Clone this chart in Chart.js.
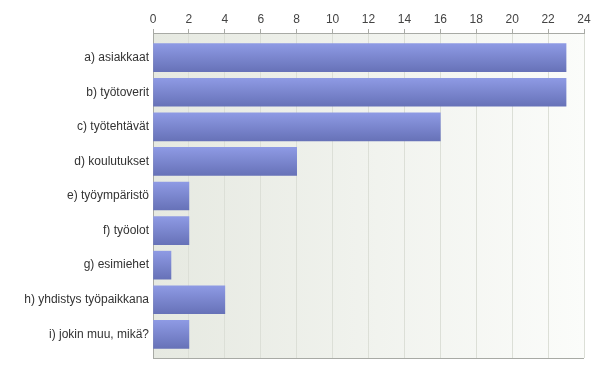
<!DOCTYPE html>
<html>
<head>
<meta charset="utf-8">
<script src="https://cdn.jsdelivr.net/npm/chart.js@4/dist/chart.umd.min.js"></script>
<style>
  html, body { margin: 0; padding: 0; background: #fff; }
  #wrap { width: 600px; height: 373px; }
</style>
</head>
<body>
<div id="wrap"><canvas id="myChart"></canvas></div>
<script>
const categories = ['a) asiakkaat', 'b) työtoverit', 'c) työtehtävät', 'd) koulutukset', 'e) työympäristö', 'f) työolot', 'g) esimiehet', 'h) yhdistys työpaikkana', 'i) jokin muu, mikä?'];
const values = [23, 23, 16, 8, 2, 2, 1, 4, 2];
const xTicks = [0, 2, 4, 6, 8, 10, 12, 14, 16, 18, 20, 22, 24];

// plot background + bottom outline
const plotFrame = {
    id: 'plotFrame',
    beforeDraw(chart) {
        const { ctx, chartArea: a } = chart;
        const g = ctx.createLinearGradient(a.left, 0, a.right, 0);
        g.addColorStop(0, '#e6e9e1');
        g.addColorStop(1, '#fbfcfa');
        ctx.save();
        ctx.fillStyle = g;
        ctx.fillRect(a.left, a.top, a.right - a.left, a.bottom - a.top);
        ctx.restore();
    },
    afterDraw(chart) {
        const { ctx, chartArea: a } = chart;
        ctx.save();
        ctx.strokeStyle = '#a8aaa5';
        ctx.lineWidth = 1;
        ctx.beginPath();
        ctx.moveTo(a.left, a.bottom + 0.5);
        ctx.lineTo(a.right, a.bottom + 0.5);
        ctx.stroke();
        ctx.restore();
    }
};

const chart = document.querySelector('#myChart');
new Chart(chart, {
    type: 'bar',
    data: {
        datasets: [
            {
                data: values.map((v, i) => ({ x: v, y: i })),
                backgroundColor: function(context) {
                    const c = context.chart;
                    const ys = c.scales && c.scales.y;
                    if (!c.chartArea || !ys || context.dataIndex === undefined) return '#7a86d0';
                    const yc = ys.getPixelForValue(context.dataIndex);
                    const g = c.ctx.createLinearGradient(0, yc - 14, 0, yc + 14);
                    g.addColorStop(0, '#8e9ae4');
                    g.addColorStop(1, '#6772b8');
                    return g;
                },
                borderWidth: 0,
                barThickness: 28,
            }
        ]
    },
    options: {
        indexAxis: 'y',
        responsive: true,
        maintainAspectRatio: false,
        animation: false,
        layout: {
            padding: { top: 8, right: 16, bottom: 15, left: 0 },
        },
        scales: {
            x: {
                type: 'linear',
                position: 'top',
                min: 0,
                max: 24,
                bounds: 'data',
                afterBuildTicks: scale => { scale.ticks = xTicks.map(v => ({ value: v })); },
                afterFit: scale => { scale.height = 25; },
                border: { display: true, color: '#a8aaa5' },
                grid: {
                    color: '#dcdfd7',
                    tickColor: '#a8aaa5',
                    tickLength: 4,
                },
                ticks: {
                    color: '#444',
                    padding: 2,
                    font: { family: 'Liberation Sans, Arial, sans-serif', size: 12 },
                },
            },
            y: {
                type: 'linear',
                reverse: true,
                offset: false,
                bounds: 'data',
                min: -0.714,
                max: 8.685,
                afterBuildTicks: scale => { scale.ticks = categories.map((c, i) => ({ value: i })); },
                afterFit: scale => { scale.width = 153; },
                border: { display: true, color: '#a8aaa5' },
                grid: { display: false, drawTicks: false, offset: false },
                ticks: {
                    color: '#333',
                    padding: 4,
                    callback: v => categories[v],
                    font: { family: 'Liberation Sans, Arial, sans-serif', size: 12 },
                },
            },
        },
        plugins: {
            legend: { display: false },
            tooltip: { enabled: false },
        },
    },
    plugins: [plotFrame],
});
</script>
</body>
</html>
